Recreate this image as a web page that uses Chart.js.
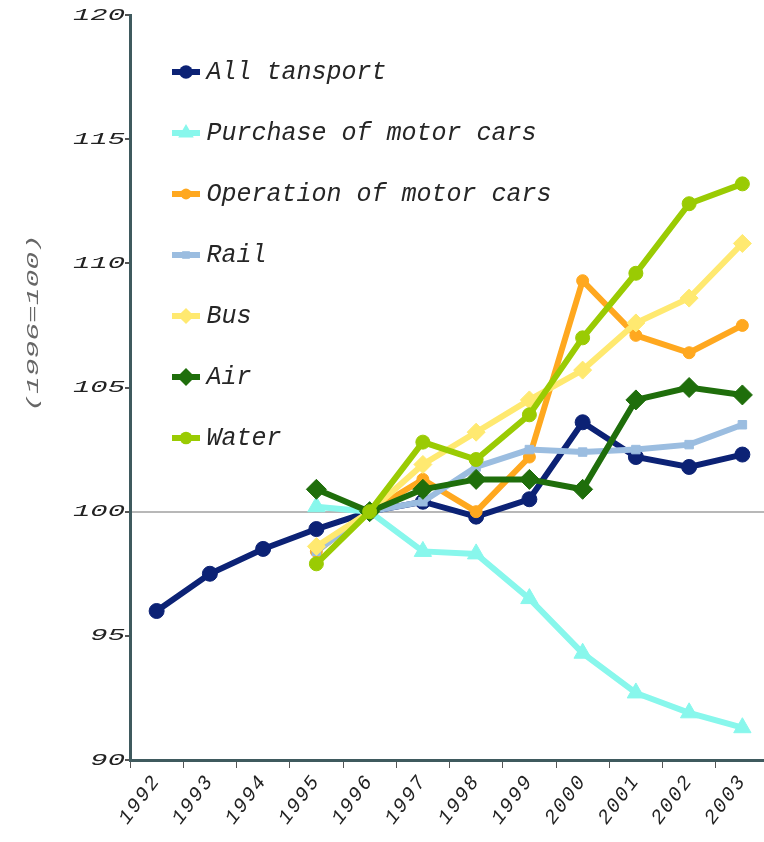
<!DOCTYPE html>
<html>
<head>
<meta charset="utf-8">
<title>Transport price indices</title>
<script src="https://cdn.jsdelivr.net/npm/chart.js@4.4.1/dist/chart.umd.min.js"></script>
<style>
  html, body { margin: 0; padding: 0; background: #fff; overflow: hidden; }
  #wrap { width: 780px; height: 842px; }
</style>
</head>
<body>
<div id="wrap"><canvas id="chart" width="780" height="842"></canvas></div>
<script>
// years on the x axis
var years = ["1992", "1993", "1994", "1995", "1996", "1997", "1998", "1999", "2000", "2001", "2002", "2003"];

// index values, 1996 = 100
var allTransport = [96.0, 97.5, 98.5, 99.3, 100, 100.4, 99.8, 100.5, 103.6, 102.2, 101.8, 102.3];
var purchaseCars = [null, null, null, 100.2, 100, 98.4, 98.3, 96.5, 94.3, 92.7, 91.9, 91.3];
var operationCars = [null, null, null, 98.4, 100, 101.3, 100.0, 102.2, 109.3, 107.1, 106.4, 107.5];
var rail = [null, null, null, 98.4, 100, 100.4, 101.8, 102.5, 102.4, 102.5, 102.7, 103.5];
var bus = [null, null, null, 98.6, 100, 101.9, 103.2, 104.5, 105.7, 107.6, 108.6, 110.8];
var air = [null, null, null, 100.9, 100, 100.9, 101.3, 101.3, 100.9, 104.5, 105.0, 104.7];
var water = [null, null, null, 97.9, 100, 102.8, 102.1, 103.9, 107.0, 109.6, 112.4, 113.2];

var yTicks = [90, 95, 100, 105, 110, 115, 120];

var monoItalic = "'Liberation Mono', 'Courier New', monospace";

var series = [
    { label: "All tansport", data: allTransport, color: "#0c2275", style: "circle", r: 7.5 },
    { label: "Purchase of motor cars", data: purchaseCars, color: "#88f7ec", style: "triangle", r: 10 },
    { label: "Operation of motor cars", data: operationCars, color: "#ffa81f", style: "circle", r: 6 },
    { label: "Rail", data: rail, color: "#9bbde0", style: "rect", r: 6 },
    { label: "Bus", data: bus, color: "#ffe970", style: "rectRot", r: 9 },
    { label: "Air", data: air, color: "#1f6e0b", style: "rectRot", r: 10 },
    { label: "Water", data: water, color: "#9acb03", style: "circle", r: 7 }
];

// small line + marker pictures for the legend
function legendIcon(s) {
    var c = document.createElement("canvas");
    c.width = 42;
    c.height = 24;
    var g = c.getContext("2d");
    g.strokeStyle = s.color;
    g.fillStyle = s.color;
    g.lineWidth = 6;
    g.beginPath();
    g.moveTo(13, 12);
    g.lineTo(41, 12);
    g.stroke();
    Chart.helpers.drawPoint(g, { pointStyle: s.style, radius: s.r * 0.9, borderWidth: 0 }, 27, 12);
    return c;
}
var icons = series.map(legendIcon);

var datasets = series.map(function (s, i) {
    return {
        label: s.label,
        data: s.data,
        borderColor: s.color,
        backgroundColor: s.color,
        borderWidth: 6,
        tension: 0,
        pointStyle: s.style,
        pointRadius: s.r,
        pointBorderWidth: 1,
        pointBorderColor: s.color,
        pointBackgroundColor: s.color,
        order: series.length - i
    };
});

// stretch y tick labels sideways and space out x tick labels, like the original
var tickText = {
    id: "tickText",
    beforeDraw: function (chart) {
        var y = chart.scales.y, x = chart.scales.x;
        if (!y._stretched) {
            var origY = y.drawLabels;
            y.drawLabels = function (area) {
                var ctx = this.ctx;
                var ax = this.right - 5;
                ctx.save();
                ctx.translate(ax, 0);
                ctx.scale(1.7, 1);
                ctx.translate(-ax, 0);
                origY.call(this, area);
                ctx.restore();
            };
            y._stretched = true;
        }
        if (!x._stretched) {
            var origX = x.drawLabels;
            x.drawLabels = function (area) {
                var ctx = this.ctx;
                ctx.save();
                ctx.letterSpacing = "2px";
                origX.call(this, area);
                ctx.letterSpacing = "0px";
                ctx.restore();
            };
            x._stretched = true;
        }
    }
};

// legend sits inside the plot, top left
var legendPlace = {
    id: "legendPlace",
    afterLayout: function (chart) {
        var l = chart.legend, ca = chart.chartArea;
        l.left = ca.left;
        l.top = ca.top + 8.5;
        l.bottom = ca.bottom;
        l.height = ca.bottom - l.top;
    }
};

// rotated y axis caption, placed above the middle like the original
var yCaption = {
    id: "yCaption",
    afterDraw: function (chart) {
        var ctx = chart.ctx;
        var cy = chart.scales.y.getPixelForValue(107.6);
        ctx.save();
        ctx.translate(34, cy);
        ctx.rotate(-Math.PI / 2);
        ctx.scale(1.85, 1);
        ctx.font = "italic 16px " + monoItalic;
        ctx.fillStyle = "#666";
        ctx.textAlign = "center";
        ctx.textBaseline = "middle";
        ctx.fillText("(1996=100)", 0, 0);
        ctx.restore();
    }
};

new Chart(document.getElementById("chart").getContext("2d"), {
    type: "line",
    data: { labels: years, datasets: datasets },
    options: {
        responsive: false,
        animation: false,
        layout: { padding: { top: 15, right: 5, left: 0, bottom: 0 } },
        scales: {
            x: {
                type: "category",
                offset: true,
                afterFit: function (s) { s.height = 82; },
                grid: {
                    offset: true,
                    drawOnChartArea: false,
                    drawTicks: true,
                    tickLength: 8,
                    tickColor: "#555",
                    lineWidth: 1
                },
                border: { display: true, color: "#3f5a5e", width: 3 },
                ticks: {
                    autoSkip: false,
                    minRotation: 53,
                    maxRotation: 53,
                    padding: 2,
                    color: "#222",
                    font: { family: monoItalic, style: "italic", size: 20 }
                }
            },
            y: {
                min: 90,
                max: 120,
                afterFit: function (s) { s.width = 130; },
                afterBuildTicks: function (s) {
                    s.ticks = yTicks.map(function (v) { return { value: v }; });
                },
                grid: {
                    drawTicks: true,
                    tickLength: 5,
                    tickColor: "#555",
                    lineWidth: 2,
                    color: function (c) {
                        return c.tick && c.tick.value === 100 ? "#b8b8b8" : "rgba(0,0,0,0)";
                    }
                },
                border: { display: true, color: "#3f5a5e", width: 3 },
                ticks: {
                    padding: 0,
                    color: "#222",
                    font: { family: monoItalic, style: "italic", size: 17 }
                }
            }
        },
        plugins: {
            tooltip: { enabled: false },
            legend: {
                position: "chartArea",
                align: "start",
                labels: {
                    usePointStyle: true,
                    pointStyleWidth: 28,
                    padding: 36,
                    color: "#262626",
                    font: { family: monoItalic, style: "italic", size: 25 },
                    sort: function (a, b) { return a.datasetIndex - b.datasetIndex; },
                    generateLabels: function (chart) {
                        var items = Chart.defaults.plugins.legend.labels.generateLabels(chart);
                        items.forEach(function (it) { it.pointStyle = icons[it.datasetIndex]; });
                        return items;
                    }
                }
            }
        }
    },
    plugins: [tickText, legendPlace, yCaption]
});
</script>
</body>
</html>
